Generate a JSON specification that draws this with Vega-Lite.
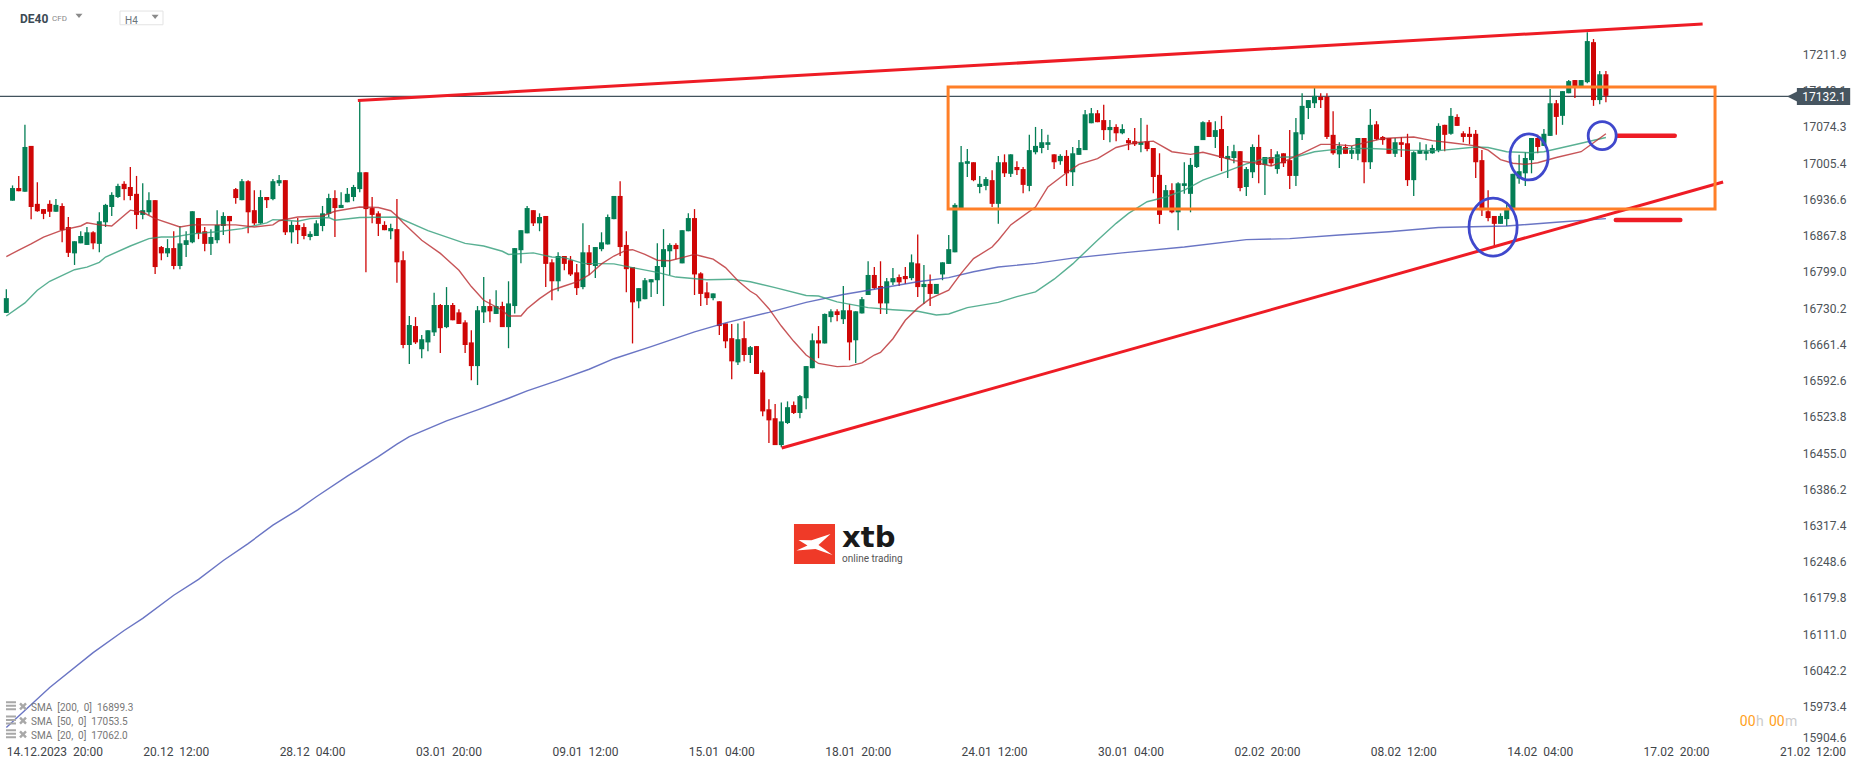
{"$schema":"https://vega.github.io/schema/vega-lite/v6.json","width":1866,"height":767,"padding":0,"autosize":{"type":"none"},"background":"white",
"config":{"view":{"stroke":null},"axis":{"grid":false,"ticks":false,"domain":false,"labelFont":"Roboto","labelFontSize":12,"labelOverlap":false,"labelBound":false,"labelFlush":false,"title":null}},
"encoding":{"x":{"field":"i","type":"quantitative","title":null,"scale":{"domain":[-1.021,299.95],"nice":false,"zero":false,"padding":0},"axis":{"orient":"bottom","values":[0,22,44,66,88,110,132,154,176,198,220,242,264,286],"labelExpr":"['14.12.2023\u00a0\u00a020:00','20.12\u00a0\u00a012:00','28.12\u00a0\u00a004:00','03.01\u00a0\u00a020:00','09.01\u00a0\u00a012:00','15.01\u00a0\u00a004:00','18.01\u00a0\u00a020:00','24.01\u00a0\u00a012:00','30.01\u00a0\u00a004:00','02.02\u00a0\u00a020:00','08.02\u00a0\u00a012:00','14.02\u00a0\u00a004:00','17.02\u00a0\u00a020:00','21.02\u00a0\u00a012:00'][datum.value/22]","labelAlign":"left","labelBaseline":"middle","labelPadding":-16,"labelColor":"#3f4549"}},"y":{"field":"p","type":"quantitative","title":null,"scale":{"domain":[15858.9,17315],"nice":false,"zero":false,"padding":0},"axis":{"orient":"right","values":[17211.9,17143.1,17074.3,17005.4,16936.6,16867.8,16799.0,16730.2,16661.4,16592.6,16523.8,16455.0,16386.2,16317.4,16248.6,16179.8,16111.0,16042.2,15973.4,15915.3],"labelExpr":"datum.value<15920?'15904.6':format(datum.value,'.1f')","labelAlign":"right","labelBaseline":"middle","labelPadding":-20,"labelColor":"#4d5358"}}},
"datasets":{"candles":[
{"i":0,"o":16721,"h":16766,"l":16721,"c":16749},{"i":1,"o":16934,"h":16963,"l":16934,"c":16958},{"i":2,"o":16958,"h":16981,"l":16952,"c":16952},{"i":3,"o":16951,"h":17078,"l":16951,"c":17036},{"i":4,"o":17038,"h":17038,"l":16899,"c":16922},{"i":5,"o":16928,"h":16969,"l":16913,"c":16914},{"i":6,"o":16918,"h":16918,"l":16899,"c":16909},{"i":7,"o":16928,"h":16935,"l":16903,"c":16913},{"i":8,"o":16913,"h":16937,"l":16913,"c":16926},{"i":9,"o":16924,"h":16929,"l":16855,"c":16878},
{"i":10,"o":16884,"h":16903,"l":16827,"c":16835},{"i":11,"o":16834,"h":16857,"l":16812,"c":16857},{"i":12,"o":16853,"h":16876,"l":16853,"c":16867},{"i":13,"o":16850,"h":16884,"l":16850,"c":16874},{"i":14,"o":16874,"h":16876,"l":16842,"c":16853},{"i":15,"o":16852,"h":16912,"l":16836,"c":16895},{"i":16,"o":16893,"h":16928,"l":16884,"c":16926},{"i":17,"o":16922,"h":16950,"l":16905,"c":16945},{"i":18,"o":16941,"h":16966,"l":16939,"c":16962},{"i":19,"o":16966,"h":16971,"l":16935,"c":16956},
{"i":20,"o":16960,"h":16998,"l":16935,"c":16943},{"i":21,"o":16947,"h":16981,"l":16880,"c":16907},{"i":22,"o":16907,"h":16967,"l":16899,"c":16916},{"i":23,"o":16912,"h":16950,"l":16907,"c":16935},{"i":24,"o":16935,"h":16935,"l":16795,"c":16808},{"i":25,"o":16846,"h":16848,"l":16821,"c":16834},{"i":26,"o":16834,"h":16861,"l":16827,"c":16844},{"i":27,"o":16844,"h":16876,"l":16804,"c":16810},{"i":28,"o":16810,"h":16886,"l":16804,"c":16853},{"i":29,"o":16850,"h":16876,"l":16827,"c":16859},
{"i":30,"o":16855,"h":16914,"l":16853,"c":16914},{"i":31,"o":16901,"h":16901,"l":16861,"c":16872},{"i":32,"o":16876,"h":16884,"l":16838,"c":16852},{"i":33,"o":16852,"h":16880,"l":16831,"c":16865},{"i":34,"o":16859,"h":16916,"l":16853,"c":16888},{"i":35,"o":16886,"h":16912,"l":16869,"c":16905},{"i":36,"o":16905,"h":16905,"l":16853,"c":16895},{"i":37,"o":16956,"h":16958,"l":16928,"c":16939},{"i":38,"o":16935,"h":16975,"l":16935,"c":16971},{"i":39,"o":16971,"h":16973,"l":16872,"c":16912},
{"i":40,"o":16916,"h":16954,"l":16888,"c":16891},{"i":41,"o":16891,"h":16954,"l":16890,"c":16941},{"i":42,"o":16941,"h":16941,"l":16920,"c":16935},{"i":43,"o":16937,"h":16975,"l":16935,"c":16971},{"i":44,"o":16967,"h":16983,"l":16962,"c":16973},{"i":45,"o":16973,"h":16973,"l":16869,"c":16874},{"i":46,"o":16874,"h":16895,"l":16853,"c":16888},{"i":47,"o":16888,"h":16901,"l":16852,"c":16878},{"i":48,"o":16884,"h":16891,"l":16861,"c":16867},{"i":49,"o":16865,"h":16876,"l":16859,"c":16871},
{"i":50,"o":16867,"h":16897,"l":16867,"c":16891},{"i":51,"o":16886,"h":16924,"l":16876,"c":16910},{"i":52,"o":16909,"h":16947,"l":16903,"c":16939},{"i":53,"o":16939,"h":16954,"l":16865,"c":16920},{"i":54,"o":16920,"h":16950,"l":16920,"c":16926},{"i":55,"o":16931,"h":16958,"l":16931,"c":16947},{"i":56,"o":16941,"h":16964,"l":16933,"c":16960},{"i":57,"o":16956,"h":17124,"l":16950,"c":16988},{"i":58,"o":16988,"h":16988,"l":16798,"c":16918},{"i":59,"o":16920,"h":16941,"l":16891,"c":16907},
{"i":60,"o":16910,"h":16914,"l":16867,"c":16890},{"i":61,"o":16888,"h":16895,"l":16878,"c":16878},{"i":62,"o":16876,"h":16890,"l":16861,"c":16882},{"i":63,"o":16880,"h":16937,"l":16778,"c":16817},{"i":64,"o":16821,"h":16838,"l":16654,"c":16660},{"i":65,"o":16660,"h":16715,"l":16624,"c":16698},{"i":66,"o":16696,"h":16713,"l":16662,"c":16665},{"i":67,"o":16652,"h":16679,"l":16635,"c":16671},{"i":68,"o":16665,"h":16688,"l":16648,"c":16688},{"i":69,"o":16684,"h":16759,"l":16677,"c":16736},
{"i":70,"o":16736,"h":16738,"l":16645,"c":16692},{"i":71,"o":16694,"h":16770,"l":16692,"c":16736},{"i":72,"o":16736,"h":16740,"l":16707,"c":16707},{"i":73,"o":16722,"h":16728,"l":16700,"c":16700},{"i":74,"o":16703,"h":16707,"l":16645,"c":16660},{"i":75,"o":16665,"h":16688,"l":16593,"c":16620},{"i":76,"o":16620,"h":16734,"l":16584,"c":16726},{"i":77,"o":16722,"h":16789,"l":16702,"c":16734},{"i":78,"o":16734,"h":16747,"l":16703,"c":16724},{"i":79,"o":16719,"h":16764,"l":16719,"c":16734},
{"i":80,"o":16734,"h":16742,"l":16694,"c":16694},{"i":81,"o":16694,"h":16781,"l":16654,"c":16739},{"i":82,"o":16734,"h":16844,"l":16720,"c":16844},{"i":83,"o":16840,"h":16878,"l":16815,"c":16878},{"i":84,"o":16872,"h":16924,"l":16872,"c":16920},{"i":85,"o":16916,"h":16916,"l":16886,"c":16891},{"i":86,"o":16891,"h":16910,"l":16876,"c":16903},{"i":87,"o":16905,"h":16905,"l":16770,"c":16814},{"i":88,"o":16817,"h":16823,"l":16745,"c":16781},{"i":89,"o":16781,"h":16836,"l":16762,"c":16829},
{"i":90,"o":16829,"h":16829,"l":16802,"c":16814},{"i":91,"o":16821,"h":16829,"l":16791,"c":16794},{"i":92,"o":16798,"h":16814,"l":16755,"c":16768},{"i":93,"o":16770,"h":16891,"l":16766,"c":16836},{"i":94,"o":16836,"h":16850,"l":16793,"c":16812},{"i":95,"o":16810,"h":16846,"l":16787,"c":16846},{"i":96,"o":16842,"h":16874,"l":16838,"c":16855},{"i":97,"o":16851,"h":16908,"l":16851,"c":16903},{"i":98,"o":16899,"h":16943,"l":16899,"c":16943},{"i":99,"o":16943,"h":16971,"l":16829,"c":16846},
{"i":100,"o":16850,"h":16876,"l":16760,"c":16804},{"i":101,"o":16808,"h":16808,"l":16663,"c":16741},{"i":102,"o":16743,"h":16768,"l":16730,"c":16768},{"i":103,"o":16747,"h":16787,"l":16747,"c":16783},{"i":104,"o":16779,"h":16785,"l":16751,"c":16785},{"i":105,"o":16783,"h":16853,"l":16757,"c":16810},{"i":106,"o":16808,"h":16880,"l":16734,"c":16842},{"i":107,"o":16838,"h":16853,"l":16793,"c":16850},{"i":108,"o":16850,"h":16853,"l":16823,"c":16842},{"i":109,"o":16815,"h":16878,"l":16815,"c":16878},
{"i":110,"o":16876,"h":16910,"l":16876,"c":16901},{"i":111,"o":16901,"h":16918,"l":16755,"c":16794},{"i":112,"o":16796,"h":16798,"l":16734,"c":16757},{"i":113,"o":16760,"h":16779,"l":16736,"c":16749},{"i":114,"o":16749,"h":16758,"l":16745,"c":16758},{"i":115,"o":16743,"h":16743,"l":16679,"c":16696},{"i":116,"o":16701,"h":16701,"l":16654,"c":16667},{"i":117,"o":16673,"h":16700,"l":16595,"c":16629},{"i":118,"o":16627,"h":16701,"l":16622,"c":16671},{"i":119,"o":16673,"h":16705,"l":16629,"c":16641},
{"i":120,"o":16641,"h":16658,"l":16626,"c":16656},{"i":121,"o":16658,"h":16658,"l":16605,"c":16605},{"i":122,"o":16608,"h":16612,"l":16525,"c":16534},{"i":123,"o":16538,"h":16557,"l":16474,"c":16517},{"i":124,"o":16521,"h":16548,"l":16470,"c":16470},{"i":125,"o":16470,"h":16551,"l":16466,"c":16515},{"i":126,"o":16512,"h":16553,"l":16510,"c":16542},{"i":127,"o":16546,"h":16553,"l":16529,"c":16531},{"i":128,"o":16531,"h":16565,"l":16521,"c":16563},{"i":129,"o":16559,"h":16620,"l":16538,"c":16620},
{"i":130,"o":16616,"h":16682,"l":16616,"c":16669},{"i":131,"o":16669,"h":16696,"l":16635,"c":16663},{"i":132,"o":16663,"h":16720,"l":16663,"c":16719},{"i":133,"o":16713,"h":16728,"l":16703,"c":16724},{"i":134,"o":16724,"h":16728,"l":16705,"c":16717},{"i":135,"o":16709,"h":16772,"l":16700,"c":16726},{"i":136,"o":16726,"h":16738,"l":16631,"c":16665},{"i":137,"o":16669,"h":16724,"l":16626,"c":16724},{"i":138,"o":16720,"h":16751,"l":16720,"c":16747},{"i":139,"o":16755,"h":16819,"l":16755,"c":16793},
{"i":140,"o":16793,"h":16808,"l":16766,"c":16768},{"i":141,"o":16772,"h":16819,"l":16719,"c":16739},{"i":142,"o":16739,"h":16787,"l":16719,"c":16781},{"i":143,"o":16779,"h":16806,"l":16774,"c":16787},{"i":144,"o":16789,"h":16794,"l":16772,"c":16779},{"i":145,"o":16791,"h":16808,"l":16776,"c":16785},{"i":146,"o":16787,"h":16832,"l":16783,"c":16817},{"i":147,"o":16815,"h":16870,"l":16751,"c":16770},{"i":148,"o":16770,"h":16812,"l":16738,"c":16776},{"i":149,"o":16776,"h":16794,"l":16734,"c":16757},
{"i":150,"o":16757,"h":16776,"l":16757,"c":16776},{"i":151,"o":16794,"h":16817,"l":16783,"c":16817},{"i":152,"o":16814,"h":16869,"l":16814,"c":16842},{"i":153,"o":16836,"h":16929,"l":16836,"c":16926},{"i":154,"o":16918,"h":17038,"l":16918,"c":17007},{"i":155,"o":17004,"h":17032,"l":16979,"c":17009},{"i":156,"o":17007,"h":17007,"l":16971,"c":16973},{"i":157,"o":16960,"h":16981,"l":16948,"c":16966},{"i":158,"o":16962,"h":16979,"l":16954,"c":16975},{"i":159,"o":16973,"h":16992,"l":16922,"c":16928},
{"i":160,"o":16928,"h":17019,"l":16890,"c":17007},{"i":161,"o":17007,"h":17022,"l":16979,"c":16986},{"i":162,"o":16985,"h":17022,"l":16979,"c":17022},{"i":163,"o":16998,"h":17009,"l":16983,"c":16992},{"i":164,"o":16994,"h":16998,"l":16948,"c":16964},{"i":165,"o":16962,"h":17059,"l":16952,"c":17030},{"i":166,"o":17026,"h":17074,"l":17022,"c":17038},{"i":167,"o":17034,"h":17070,"l":17024,"c":17045},{"i":168,"o":17040,"h":17059,"l":17030,"c":17045},{"i":169,"o":17022,"h":17022,"l":16994,"c":17007},
{"i":170,"o":17009,"h":17022,"l":17002,"c":17019},{"i":171,"o":17019,"h":17030,"l":16962,"c":16986},{"i":172,"o":16988,"h":17036,"l":16962,"c":17024},{"i":173,"o":17021,"h":17049,"l":17021,"c":17034},{"i":174,"o":17030,"h":17106,"l":17030,"c":17098},{"i":175,"o":17081,"h":17110,"l":17081,"c":17100},{"i":176,"o":17100,"h":17106,"l":17083,"c":17083},{"i":177,"o":17087,"h":17116,"l":17049,"c":17068},{"i":178,"o":17068,"h":17087,"l":17045,"c":17074},{"i":179,"o":17074,"h":17079,"l":17047,"c":17062},
{"i":180,"o":17062,"h":17079,"l":17060,"c":17070},{"i":181,"o":17049,"h":17053,"l":17030,"c":17043},{"i":182,"o":17047,"h":17072,"l":17038,"c":17041},{"i":183,"o":17040,"h":17091,"l":17026,"c":17045},{"i":184,"o":17047,"h":17078,"l":17028,"c":17032},{"i":185,"o":17034,"h":17034,"l":16948,"c":16979},{"i":186,"o":16983,"h":17024,"l":16890,"c":16907},{"i":187,"o":16920,"h":16964,"l":16920,"c":16954},{"i":188,"o":16954,"h":16967,"l":16910,"c":16912},{"i":189,"o":16912,"h":16969,"l":16878,"c":16967},
{"i":190,"o":16962,"h":17007,"l":16947,"c":16967},{"i":191,"o":16947,"h":17015,"l":16912,"c":17002},{"i":192,"o":16998,"h":17038,"l":16996,"c":17038},{"i":193,"o":17049,"h":17085,"l":17049,"c":17083},{"i":194,"o":17083,"h":17087,"l":17055,"c":17055},{"i":195,"o":17055,"h":17085,"l":17034,"c":17068},{"i":196,"o":17070,"h":17095,"l":16990,"c":17015},{"i":197,"o":17013,"h":17038,"l":16977,"c":17019},{"i":198,"o":17015,"h":17040,"l":17005,"c":17028},{"i":199,"o":17028,"h":17028,"l":16952,"c":16958},
{"i":200,"o":16960,"h":16998,"l":16943,"c":16994},{"i":201,"o":16988,"h":17041,"l":16977,"c":17036},{"i":202,"o":17036,"h":17059,"l":16967,"c":17002},{"i":203,"o":17002,"h":17017,"l":16945,"c":17017},{"i":204,"o":17017,"h":17032,"l":17000,"c":17005},{"i":205,"o":16994,"h":17028,"l":16985,"c":17022},{"i":206,"o":17024,"h":17024,"l":16998,"c":17005},{"i":207,"o":17011,"h":17068,"l":16956,"c":16981},{"i":208,"o":16981,"h":17091,"l":16962,"c":17064},{"i":209,"o":17060,"h":17138,"l":17049,"c":17114},
{"i":210,"o":17110,"h":17125,"l":17089,"c":17125},{"i":211,"o":17119,"h":17148,"l":17110,"c":17133},{"i":212,"o":17131,"h":17138,"l":17110,"c":17125},{"i":213,"o":17131,"h":17138,"l":17051,"c":17055},{"i":214,"o":17059,"h":17104,"l":17021,"c":17024},{"i":215,"o":17022,"h":17045,"l":16996,"c":17038},{"i":216,"o":17036,"h":17041,"l":17023,"c":17023},{"i":217,"o":17023,"h":17038,"l":17013,"c":17030},{"i":218,"o":17023,"h":17053,"l":17011,"c":17053},{"i":219,"o":17053,"h":17053,"l":16967,"c":17007},
{"i":220,"o":17007,"h":17108,"l":16994,"c":17078},{"i":221,"o":17079,"h":17085,"l":17049,"c":17051},{"i":222,"o":17055,"h":17057,"l":17040,"c":17049},{"i":223,"o":17053,"h":17053,"l":17023,"c":17023},{"i":224,"o":17023,"h":17053,"l":17017,"c":17045},{"i":225,"o":17045,"h":17055,"l":17017,"c":17040},{"i":226,"o":17043,"h":17061,"l":16962,"c":16973},{"i":227,"o":16973,"h":17028,"l":16943,"c":17026},{"i":228,"o":17023,"h":17045,"l":17023,"c":17030},{"i":229,"o":17023,"h":17041,"l":17011,"c":17028},
{"i":230,"o":17024,"h":17040,"l":17023,"c":17034},{"i":231,"o":17030,"h":17081,"l":17026,"c":17076},{"i":232,"o":17078,"h":17078,"l":17028,"c":17059},{"i":233,"o":17061,"h":17110,"l":17059,"c":17095},{"i":234,"o":17093,"h":17098,"l":17076,"c":17076},{"i":235,"o":17062,"h":17066,"l":17045,"c":17055},{"i":236,"o":17061,"h":17074,"l":17041,"c":17055},{"i":237,"o":17061,"h":17068,"l":16977,"c":17007},{"i":238,"o":17011,"h":17030,"l":16905,"c":16916},{"i":239,"o":16914,"h":16954,"l":16895,"c":16901},
{"i":240,"o":16905,"h":16905,"l":16848,"c":16890},{"i":241,"o":16890,"h":16910,"l":16890,"c":16905},{"i":242,"o":16899,"h":16931,"l":16886,"c":16920},{"i":243,"o":16920,"h":16985,"l":16920,"c":16985},{"i":244,"o":16976,"h":17021,"l":16966,"c":16990},{"i":245,"o":16986,"h":17026,"l":16962,"c":17015},{"i":246,"o":17011,"h":17053,"l":16986,"c":17053},{"i":247,"o":17053,"h":17059,"l":17024,"c":17036},{"i":248,"o":17038,"h":17070,"l":17038,"c":17061},{"i":249,"o":17057,"h":17146,"l":17057,"c":17119},
{"i":250,"o":17119,"h":17125,"l":17059,"c":17093},{"i":251,"o":17095,"h":17142,"l":17078,"c":17142},{"i":252,"o":17138,"h":17163,"l":17138,"c":17161},{"i":253,"o":17163,"h":17163,"l":17129,"c":17151},{"i":254,"o":17151,"h":17163,"l":17151,"c":17163},{"i":255,"o":17159,"h":17254,"l":17157,"c":17237},{"i":256,"o":17235,"h":17241,"l":17114,"c":17125},{"i":257,"o":17125,"h":17180,"l":17117,"c":17174},{"i":258,"o":17174,"h":17180,"l":17121,"c":17133}],
"sma":[
{"s":"SMA200","i":0,"p":15934},{"s":"SMA200","i":7,"p":16010},{"s":"SMA200","i":14,"p":16076},{"s":"SMA200","i":19,"p":16118},{"s":"SMA200","i":22,"p":16141},{"s":"SMA200","i":27,"p":16185},{"s":"SMA200","i":31,"p":16215},{"s":"SMA200","i":35,"p":16251},{"s":"SMA200","i":39,"p":16283},{"s":"SMA200","i":43,"p":16318},{"s":"SMA200","i":47,"p":16347},{"s":"SMA200","i":50,"p":16372},{"s":"SMA200","i":55,"p":16411},{"s":"SMA200","i":60,"p":16448},{"s":"SMA200","i":63,"p":16472},{"s":"SMA200","i":65,"p":16486},{"s":"SMA200","i":71,"p":16516},{"s":"SMA200","i":76,"p":16537},{"s":"SMA200","i":81,"p":16559},{"s":"SMA200","i":84,"p":16573},{"s":"SMA200","i":89,"p":16593},{"s":"SMA200","i":94,"p":16614},{"s":"SMA200","i":98,"p":16634},{"s":"SMA200","i":104,"p":16657},{"s":"SMA200","i":111,"p":16685},{"s":"SMA200","i":116,"p":16702},{"s":"SMA200","i":123,"p":16722},{"s":"SMA200","i":129,"p":16741},{"s":"SMA200","i":135,"p":16756},{"s":"SMA200","i":140,"p":16766},{"s":"SMA200","i":147,"p":16780},{"s":"SMA200","i":152,"p":16788},{"s":"SMA200","i":156,"p":16799},{"s":"SMA200","i":160,"p":16808},{"s":"SMA200","i":166,"p":16815},{"s":"SMA200","i":172,"p":16825},{"s":"SMA200","i":180,"p":16835},{"s":"SMA200","i":190,"p":16846},{"s":"SMA200","i":200,"p":16860},{"s":"SMA200","i":207,"p":16862},{"s":"SMA200","i":215,"p":16869},{"s":"SMA200","i":223,"p":16875},{"s":"SMA200","i":231,"p":16883},{"s":"SMA200","i":242,"p":16886},{"s":"SMA200","i":250,"p":16893},{"s":"SMA200","i":258,"p":16900},
{"s":"SMA50","i":0,"p":16715},{"s":"SMA50","i":3,"p":16740},{"s":"SMA50","i":5,"p":16764},{"s":"SMA50","i":7,"p":16781},{"s":"SMA50","i":11,"p":16803},{"s":"SMA50","i":13,"p":16808},{"s":"SMA50","i":15,"p":16817},{"s":"SMA50","i":16,"p":16827},{"s":"SMA50","i":20,"p":16848},{"s":"SMA50","i":23,"p":16862},{"s":"SMA50","i":25,"p":16865},{"s":"SMA50","i":27,"p":16865},{"s":"SMA50","i":30,"p":16871},{"s":"SMA50","i":34,"p":16875},{"s":"SMA50","i":38,"p":16881},{"s":"SMA50","i":42,"p":16892},{"s":"SMA50","i":43,"p":16898},{"s":"SMA50","i":45,"p":16897},{"s":"SMA50","i":47,"p":16895},{"s":"SMA50","i":49,"p":16900},{"s":"SMA50","i":52,"p":16902},{"s":"SMA50","i":53,"p":16897},{"s":"SMA50","i":57,"p":16902},{"s":"SMA50","i":63,"p":16903},{"s":"SMA50","i":68,"p":16877},{"s":"SMA50","i":74,"p":16853},{"s":"SMA50","i":77,"p":16848},{"s":"SMA50","i":80,"p":16838},{"s":"SMA50","i":81,"p":16832},{"s":"SMA50","i":85,"p":16835},{"s":"SMA50","i":88,"p":16827},{"s":"SMA50","i":90,"p":16826},{"s":"SMA50","i":93,"p":16815},{"s":"SMA50","i":98,"p":16814},{"s":"SMA50","i":101,"p":16807},{"s":"SMA50","i":105,"p":16798},{"s":"SMA50","i":108,"p":16789},{"s":"SMA50","i":113,"p":16784},{"s":"SMA50","i":117,"p":16785},{"s":"SMA50","i":120,"p":16780},{"s":"SMA50","i":124,"p":16769},{"s":"SMA50","i":129,"p":16754},{"s":"SMA50","i":131,"p":16753},{"s":"SMA50","i":134,"p":16742},{"s":"SMA50","i":139,"p":16731},{"s":"SMA50","i":143,"p":16727},{"s":"SMA50","i":147,"p":16724},{"s":"SMA50","i":150,"p":16717},{"s":"SMA50","i":152,"p":16719},{"s":"SMA50","i":155,"p":16731},{"s":"SMA50","i":160,"p":16741},{"s":"SMA50","i":163,"p":16752},{"s":"SMA50","i":166,"p":16761},{"s":"SMA50","i":169,"p":16785},{"s":"SMA50","i":172,"p":16814},{"s":"SMA50","i":176,"p":16859},{"s":"SMA50","i":179,"p":16891},{"s":"SMA50","i":181,"p":16910},{"s":"SMA50","i":184,"p":16932},{"s":"SMA50","i":187,"p":16941},{"s":"SMA50","i":190,"p":16954},{"s":"SMA50","i":193,"p":16973},{"s":"SMA50","i":196,"p":16986},{"s":"SMA50","i":200,"p":17004},{"s":"SMA50","i":203,"p":17014},{"s":"SMA50","i":206,"p":17017},{"s":"SMA50","i":208,"p":17017},{"s":"SMA50","i":211,"p":17027},{"s":"SMA50","i":214,"p":17031},{"s":"SMA50","i":217,"p":17033},{"s":"SMA50","i":220,"p":17033},{"s":"SMA50","i":226,"p":17030},{"s":"SMA50","i":231,"p":17029},{"s":"SMA50","i":237,"p":17036},{"s":"SMA50","i":239,"p":17035},{"s":"SMA50","i":242,"p":17027},{"s":"SMA50","i":246,"p":17025},{"s":"SMA50","i":248,"p":17027},{"s":"SMA50","i":251,"p":17035},{"s":"SMA50","i":254,"p":17043},{"s":"SMA50","i":258,"p":17054},
{"s":"SMA20","i":0,"p":16828},{"s":"SMA20","i":2,"p":16840},{"s":"SMA20","i":4,"p":16852},{"s":"SMA20","i":6,"p":16865},{"s":"SMA20","i":9,"p":16878},{"s":"SMA20","i":12,"p":16886},{"s":"SMA20","i":13,"p":16892},{"s":"SMA20","i":15,"p":16888},{"s":"SMA20","i":17,"p":16886},{"s":"SMA20","i":20,"p":16916},{"s":"SMA20","i":22,"p":16912},{"s":"SMA20","i":24,"p":16900},{"s":"SMA20","i":28,"p":16884},{"s":"SMA20","i":30,"p":16888},{"s":"SMA20","i":33,"p":16888},{"s":"SMA20","i":37,"p":16888},{"s":"SMA20","i":40,"p":16884},{"s":"SMA20","i":43,"p":16888},{"s":"SMA20","i":44,"p":16896},{"s":"SMA20","i":47,"p":16903},{"s":"SMA20","i":51,"p":16905},{"s":"SMA20","i":53,"p":16914},{"s":"SMA20","i":57,"p":16922},{"s":"SMA20","i":60,"p":16921},{"s":"SMA20","i":62,"p":16915},{"s":"SMA20","i":63,"p":16905},{"s":"SMA20","i":64,"p":16892},{"s":"SMA20","i":67,"p":16859},{"s":"SMA20","i":70,"p":16834},{"s":"SMA20","i":73,"p":16802},{"s":"SMA20","i":75,"p":16771},{"s":"SMA20","i":77,"p":16745},{"s":"SMA20","i":80,"p":16726},{"s":"SMA20","i":81,"p":16715},{"s":"SMA20","i":83,"p":16715},{"s":"SMA20","i":84,"p":16729},{"s":"SMA20","i":86,"p":16748},{"s":"SMA20","i":88,"p":16764},{"s":"SMA20","i":90,"p":16772},{"s":"SMA20","i":92,"p":16780},{"s":"SMA20","i":94,"p":16793},{"s":"SMA20","i":96,"p":16814},{"s":"SMA20","i":98,"p":16829},{"s":"SMA20","i":100,"p":16840},{"s":"SMA20","i":101,"p":16841},{"s":"SMA20","i":103,"p":16832},{"s":"SMA20","i":105,"p":16821},{"s":"SMA20","i":107,"p":16820},{"s":"SMA20","i":109,"p":16826},{"s":"SMA20","i":111,"p":16832},{"s":"SMA20","i":112,"p":16829},{"s":"SMA20","i":114,"p":16823},{"s":"SMA20","i":116,"p":16807},{"s":"SMA20","i":118,"p":16782},{"s":"SMA20","i":120,"p":16762},{"s":"SMA20","i":121,"p":16755},{"s":"SMA20","i":123,"p":16729},{"s":"SMA20","i":125,"p":16696},{"s":"SMA20","i":127,"p":16667},{"s":"SMA20","i":129,"p":16641},{"s":"SMA20","i":131,"p":16625},{"s":"SMA20","i":134,"p":16619},{"s":"SMA20","i":136,"p":16620},{"s":"SMA20","i":138,"p":16626},{"s":"SMA20","i":140,"p":16641},{"s":"SMA20","i":141,"p":16646},{"s":"SMA20","i":143,"p":16672},{"s":"SMA20","i":145,"p":16707},{"s":"SMA20","i":147,"p":16730},{"s":"SMA20","i":149,"p":16748},{"s":"SMA20","i":152,"p":16764},{"s":"SMA20","i":154,"p":16796},{"s":"SMA20","i":156,"p":16824},{"s":"SMA20","i":159,"p":16846},{"s":"SMA20","i":160,"p":16859},{"s":"SMA20","i":162,"p":16888},{"s":"SMA20","i":166,"p":16922},{"s":"SMA20","i":168,"p":16960},{"s":"SMA20","i":171,"p":16987},{"s":"SMA20","i":173,"p":17003},{"s":"SMA20","i":176,"p":17014},{"s":"SMA20","i":179,"p":17035},{"s":"SMA20","i":182,"p":17044},{"s":"SMA20","i":185,"p":17047},{"s":"SMA20","i":188,"p":17027},{"s":"SMA20","i":191,"p":17022},{"s":"SMA20","i":193,"p":17026},{"s":"SMA20","i":196,"p":17017},{"s":"SMA20","i":198,"p":17010},{"s":"SMA20","i":202,"p":17005},{"s":"SMA20","i":204,"p":17000},{"s":"SMA20","i":206,"p":17008},{"s":"SMA20","i":209,"p":17024},{"s":"SMA20","i":212,"p":17041},{"s":"SMA20","i":214,"p":17041},{"s":"SMA20","i":217,"p":17038},{"s":"SMA20","i":222,"p":17052},{"s":"SMA20","i":225,"p":17054},{"s":"SMA20","i":227,"p":17055},{"s":"SMA20","i":230,"p":17048},{"s":"SMA20","i":233,"p":17044},{"s":"SMA20","i":237,"p":17038},{"s":"SMA20","i":239,"p":17030},{"s":"SMA20","i":241,"p":17012},{"s":"SMA20","i":243,"p":17005},{"s":"SMA20","i":245,"p":17003},{"s":"SMA20","i":247,"p":17006},{"s":"SMA20","i":250,"p":17016},{"s":"SMA20","i":254,"p":17027},{"s":"SMA20","i":256,"p":17044},{"s":"SMA20","i":258,"p":17061}]},
"layer":[
{"data":{"values":[{"i":-1.021,"p":17132.1},{"i":288.8,"p":17132.1}]},"mark":{"type":"line","color":"#42525c","strokeWidth":1.3}},
{"data":{"name":"candles"},"mark":{"type":"rule","strokeWidth":1.3},"encoding":{"y":{"field":"l","type":"quantitative","title":null},"y2":{"field":"h"},"color":{"condition":{"test":"datum.c>=datum.o","value":"#047e55"},"value":"#cf0606"}}},
{"data":{"name":"candles"},"mark":{"type":"bar","size":5,"orient":"vertical"},"encoding":{"y":{"field":"o","type":"quantitative","title":null},"y2":{"field":"c"},"color":{"condition":{"test":"datum.c>=datum.o","value":"#047e55"},"value":"#cf0606"}}},
{"data":{"name":"sma"},"mark":{"type":"line","strokeWidth":1.4,"opacity":0.8},"encoding":{"color":{"field":"s","type":"nominal","legend":null,"scale":{"domain":["SMA200","SMA50","SMA20"],"range":["#4552b5","#2f9c78","#b92a2e"]}}}},
{"data":{"values":[{"name":"upper","i":56.7,"p":17124},{"name":"upper","i":273.6,"p":17269.4},{"name":"lower","i":125.06,"p":16464.5},{"name":"lower","i":276.9,"p":16969.5}]},"mark":{"type":"line","color":"#ee1c25","strokeWidth":3},"encoding":{"detail":{"field":"name"}}},
{"data":{"values":[{"name":"resistance","i":259.9,"p":17057.4},{"name":"resistance","i":269.1,"p":17057.4},{"name":"support","i":259.6,"p":16897.4},{"name":"support","i":270,"p":16897.4}]},"mark":{"type":"line","color":"#ee1c25","strokeWidth":4.5,"strokeCap":"round"},"encoding":{"detail":{"field":"name"}}},
{"data":{"values":[{"i":151.9,"i2":275.6,"p":17149.8,"p2":16918.2}]},"mark":{"type":"rect","fillOpacity":0,"stroke":"#ff7f27","strokeWidth":3},"encoding":{"x2":{"field":"i2"},"y2":{"field":"p2"}}},
{"data":{"values":[{"i":239.8,"p":16884}]},"mark":{"type":"point","shape":"M-0.83,0A0.83,1 0 1,1 0.83,0A0.83,1 0 1,1 -0.83,0Z","size":3364,"filled":false,"stroke":"#3f48cc","strokeWidth":2.8,"opacity":1}},
{"data":{"values":[{"i":245.6,"p":17017}]},"mark":{"type":"point","shape":"M-0.83,0A0.83,1 0 1,1 0.83,0A0.83,1 0 1,1 -0.83,0Z","size":2116,"filled":false,"stroke":"#3f48cc","strokeWidth":2.8,"opacity":1}},
{"data":{"values":[{"i":257.4,"p":17057.4}]},"mark":{"type":"point","shape":"M-1,0A1,1 0 1,1 1,0A1,1 0 1,1 -1,0Z","size":784,"filled":false,"stroke":"#3f48cc","strokeWidth":2.8,"opacity":1}},
{"data":{"values":[{"i":288.8,"i2":297.4,"p":17148,"p2":17115.7}]},"mark":{"type":"rect","color":"#465560"},"encoding":{"x2":{"field":"i2"},"y2":{"field":"p2"}}},
{"data":{"values":[{"i":288.6,"p":17131.8}]},"mark":{"type":"point","shape":"M-1,0L1,-1L1,1Z","size":289,"filled":true,"color":"#465560","opacity":1}},
{"data":{"values":[{"i":296.7,"p":17131.8,"t":"17132.1"}]},"mark":{"type":"text","align":"right","baseline":"middle","font":"Roboto","fontSize":12,"color":"#ffffff"},"encoding":{"text":{"field":"t"}}},
{"data":{"values":[{"i":2.2,"p":17279,"t":"DE40"}]},"mark":{"type":"text","align":"left","baseline":"middle","font":"Roboto","fontSize":12,"fontWeight":"bold","color":"#3c4a54"},"encoding":{"text":{"field":"t"}}},
{"data":{"values":[{"i":7.37,"p":17279,"t":"CFD"}]},"mark":{"type":"text","align":"left","baseline":"middle","font":"Roboto","fontSize":8,"color":"#888888"},"encoding":{"text":{"field":"t"}}},
{"data":{"values":[{"i":11.72,"p":17285},{"i":24,"p":17283}]},"mark":{"type":"point","shape":"M-1,-0.6L1,-0.6L0,0.6Z","size":49,"filled":true,"color":"#8a8a8a","opacity":1}},
{"data":{"values":[{"i":18.33,"i2":25.27,"p":17294,"p2":17268}]},"mark":{"type":"rect","fillOpacity":0,"stroke":"#e3e3e3","strokeWidth":1},"encoding":{"x2":{"field":"i2"},"y2":{"field":"p2"}}},
{"data":{"values":[{"i":19.14,"p":17276,"t":"H4"}]},"mark":{"type":"text","align":"left","baseline":"middle","font":"Roboto","fontSize":10,"color":"#6b747b"},"encoding":{"text":{"field":"t"}}},
{"data":{"values":[{"i":3.98,"p":15971.5,"t":"SMA\u00a0\u00a0[200,\u00a0\u00a00]\u00a0\u00a016899.3"},{"i":3.98,"p":15944.9,"t":"SMA\u00a0\u00a0[50,\u00a0\u00a00]\u00a0\u00a017053.5"},{"i":3.98,"p":15918.4,"t":"SMA\u00a0\u00a0[20,\u00a0\u00a00]\u00a0\u00a017062.0"}]},"mark":{"type":"text","align":"left","baseline":"middle","font":"Roboto","fontSize":10,"color":"#777777"},"encoding":{"text":{"field":"t"}}},
{"data":{"values":[{"i":0.75,"p":15974},{"i":0.75,"p":15947},{"i":0.75,"p":15921}]},"mark":{"type":"point","shape":"M-1,-1H1V-0.6H-1ZM-1,-0.3H1V0.1H-1ZM-1,0.4H1V0.8H-1Z","size":100,"filled":true,"color":"#a8a8a8","opacity":1}},
{"data":{"values":[{"i":2.69,"p":15974},{"i":2.69,"p":15947},{"i":2.69,"p":15921}]},"mark":{"type":"point","shape":"M-1,-1L1,1M1,-1L-1,1","size":36,"filled":false,"stroke":"#a8a8a8","strokeWidth":2.4,"opacity":1}},
{"data":{"values":[{"i":279.6,"p":15944.4,"t":"00"},{"i":284.3,"p":15944.4,"t":"00"}]},"mark":{"type":"text","align":"left","baseline":"middle","font":"Roboto","fontSize":14,"color":"#ff9f1c"},"encoding":{"text":{"field":"t"}}},
{"data":{"values":[{"i":282.2,"p":15944.4,"t":"h"},{"i":286.9,"p":15944.4,"t":"m"}]},"mark":{"type":"text","align":"left","baseline":"middle","font":"Roboto","fontSize":14,"color":"#cccccc"},"encoding":{"text":{"field":"t"}}},
{"data":{"values":[{"i":127.04,"i2":133.66,"p":16320.2,"p2":16244.3}]},"mark":{"type":"rect","color":"#ef3a28"},"encoding":{"x2":{"field":"i2"},"y2":{"field":"p2"}}},
{"data":{"values":[{"i":130.35,"p":16282.3}]},"mark":{"type":"point","shape":"M-0.8,-0.2L-0.15,-0.18L0.8,-0.5L0.2,0.05L0.9,0.55L0.05,0.25L-0.9,0.33L-0.35,0.08Z","size":1600,"filled":true,"color":"#ffffff","opacity":1}},
{"data":{"values":[{"i":134.8,"p":16276.6,"t":"xtb"}]},"mark":{"type":"text","align":"left","baseline":"alphabetic","font":"DejaVu Sans","fontSize":29,"fontWeight":"bold","color":"#1a1a1a"},"encoding":{"text":{"field":"t"}}},
{"data":{"values":[{"i":134.8,"p":16248.7,"t":"online trading"}]},"mark":{"type":"text","align":"left","baseline":"alphabetic","font":"Roboto","fontSize":10,"color":"#555555"},"encoding":{"text":{"field":"t"}}}
]}
